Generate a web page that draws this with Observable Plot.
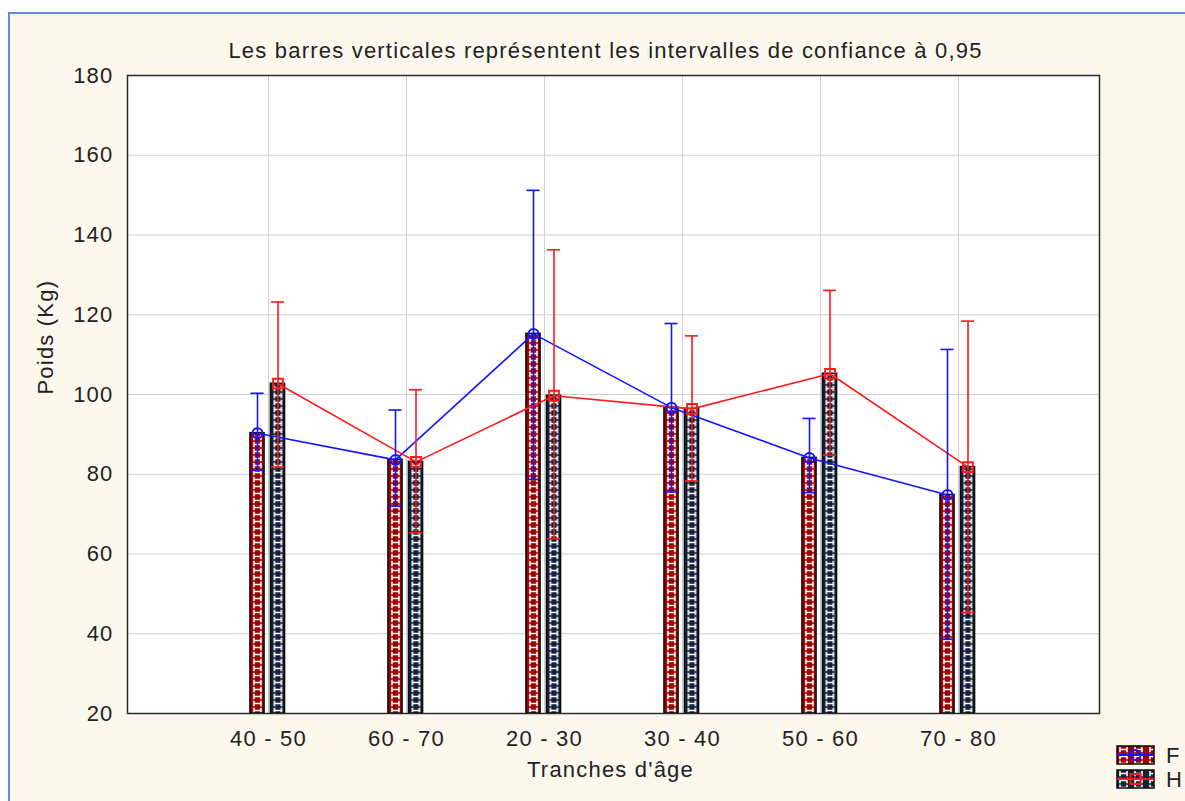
<!DOCTYPE html>
<html lang="fr">
<head>
<meta charset="utf-8">
<script src="https://cdn.jsdelivr.net/npm/d3@7"></script>
<script src="https://cdn.jsdelivr.net/npm/@observablehq/plot@0.6"></script>
<style>
  html, body { margin: 0; padding: 0; background: #ffffff; overflow: hidden; }
  #panel { position: absolute; left: 8px; top: 12px; width: 1200px; height: 800px;
           background: #fcf8ee; border-left: 2px solid #5f8fd6; border-top: 2px solid #5f8fd6; }
  #chart { position: absolute; left: 0; top: 0; }
  #legend { position: absolute; left: 1110px; top: 740px; }
  #legend text { font-family: "Liberation Sans", Arial, sans-serif; font-size: 22px; fill: #222; letter-spacing: 1.2px; }
</style>
</head>
<body>
<div id="panel"></div>
<svg id="defs" width="1" height="1" style="position:absolute;left:0;top:0"><defs></defs></svg>
<div id="chart"></div>
<svg id="legend" width="75" height="61"></svg>
<script>
// Poids moyen par tranche d'âge et par sexe, avec intervalles de confiance à 95 %
const categories = ["40 - 50", "60 - 70", "20 - 30", "30 - 40", "50 - 60", "70 - 80"];

// Femmes (F)
const fMean = [90.3, 83.6, 115.2, 96.7, 84.1, 74.8];
const fLow  = [81.0, 72.0, 78.7, 75.6, 75.4, 38.6];
const fHigh = [100.3, 96.1, 151.2, 117.8, 94.0, 111.3];

// Hommes (H)
const hMean = [102.7, 83.1, 99.7, 96.4, 105.2, 81.8];
const hLow  = [81.8, 65.3, 63.8, 78.3, 84.8, 45.3];
const hHigh = [123.2, 101.2, 136.3, 114.7, 126.1, 118.4];

const yTicks = [20, 40, 60, 80, 100, 120, 140, 160, 180];
const legendLabels = ["F", "H"];

const rows = categories.map((cat, i) => ({
  cat,
  fMean: fMean[i], fLow: fLow[i], fHigh: fHigh[i],
  hMean: hMean[i], hLow: hLow[i], hHigh: hHigh[i]
}));

const W = 1185, H = 801;
const mL = 127, mR = 86, mT = 75, mB = 88;
const step = (W - mL - mR) / (categories.length + 1);   // band width
const barW = 15, capW = 14, offF = -11, offH = 9.5;
const barInset = (step - barW) / 2;
const capInset = (step - capW) / 2;
const base = yTicks[0];
const blue = "#1414ff", red = "#ff1a1a";
const fillF = "#9c0000", fillH = "#14213a";

// Brick-like hatch; x0 lets each bar start on the same motif
const defs = d3.select("#defs defs");
function brick(id, bg, x0) {
  const p = defs.append("pattern").attr("id", id).attr("patternUnits", "userSpaceOnUse")
    .attr("x", x0).attr("y", 0).attr("width", barW).attr("height", 7);
  p.append("rect").attr("width", barW).attr("height", 7).attr("fill", bg);
  p.append("path").attr("d", "M4,0.8V6.2M11,0.8V6.2M4,3.5H11")
    .attr("stroke", "#ffffff").attr("stroke-width", 1.6).attr("fill", "none");
}
brick("brickFLeg", fillF, -1);
brick("brickHLeg", fillH, -1);

function bars(meanKey, color, dx) {
  return Plot.barY(rows, {x: "cat", y1: base, y2: meanKey, fill: color,
    stroke: "#0a0a0a", strokeWidth: 1.5, insetLeft: barInset, insetRight: barInset, dx});
}
function overlay(meanKey, lowKey, highKey, color, symbol, dx) {
  return [
    Plot.ruleX(rows, {x: "cat", y1: lowKey, y2: highKey, stroke: color, strokeWidth: 1.6, dx}),
    Plot.tickY(rows, {x: "cat", y: highKey, stroke: color, strokeWidth: 1.6, insetLeft: capInset, insetRight: capInset, dx}),
    Plot.tickY(rows, {x: "cat", y: lowKey, stroke: color, strokeWidth: 1.6, insetLeft: capInset, insetRight: capInset, dx}),
    Plot.dot(rows, {x: "cat", y: meanKey, r: symbol === "circle" ? 5 : 5.5, symbol, stroke: color, strokeWidth: 2, fill: "none", dx})
  ];
}

const chart = Plot.plot({
  width: W, height: H,
  marginLeft: mL, marginRight: mR, marginTop: mT, marginBottom: mB,
  style: {background: "transparent", fontFamily: "'Liberation Sans', Arial, sans-serif",
          fontSize: "22px", color: "#222", letterSpacing: "1.2px"},
  x: {type: "band", domain: categories, paddingInner: 0, paddingOuter: 0.5},
  y: {domain: [yTicks[0], yTicks[yTicks.length - 1]]},
  marks: [
    Plot.frame({fill: "#ffffff", stroke: "none"}),
    Plot.gridY({ticks: yTicks, stroke: "#cfcfcf", strokeOpacity: 1, strokeWidth: 1}),
    Plot.gridX({stroke: "#cfcfcf", strokeOpacity: 1, strokeWidth: 1}),
    bars("fMean", fillF, offF),
    bars("hMean", fillH, offH),
    Plot.lineY(rows, {x: "cat", y: "fMean", stroke: blue, strokeWidth: 1.6, dx: offF}),
    Plot.lineY(rows, {x: "cat", y: "hMean", stroke: red, strokeWidth: 1.6, dx: offH}),
    ...overlay("fMean", "fLow", "fHigh", blue, "circle", offF),
    ...overlay("hMean", "hLow", "hHigh", red, "square", offH),
    Plot.frame({stroke: "#2a2a2a", strokeWidth: 1.5}),
    Plot.axisY({ticks: yTicks, tickSize: 0, tickPadding: 14, label: null}),
    Plot.axisX({tickSize: 0, tickPadding: 17, label: null}),
    Plot.text(["Les barres verticales représentent les intervalles de confiance à 0,95"],
      {frameAnchor: "top", dy: -33, dx: -8, fontSize: 22}),
    Plot.text(["Tranches d'âge"], {frameAnchor: "bottom", dy: 63, dx: -3, fontSize: 22}),
    Plot.text(["Poids (Kg)"], {frameAnchor: "left", dx: -82, rotate: -90, fontSize: 22})
  ]
});
document.getElementById("chart").append(chart);

// Swap each bar's flat colour for the hatch, anchored on the bar's own left edge
[[fillF, "F"], [fillH, "H"]].forEach(([color, key]) => {
  d3.select(chart).selectAll(`g[fill="${color}"] rect`).each(function (d, i) {
    const id = `brick${key}${i}`;
    brick(id, color, +this.getAttribute("x"));
    this.setAttribute("fill", `url(#${id})`);
  });
});

// Légende : motif de la barre traversé par la ligne et le symbole de chaque série
const leg = d3.select("#legend");
const legendItems = [
  {label: legendLabels[0], fill: "url(#brickFLeg)", color: blue, symbol: "circle"},
  {label: legendLabels[1], fill: "url(#brickHLeg)", color: red, symbol: "square"}
];
legendItems.forEach((d, i) => {
  const g = leg.append("g").attr("transform", `translate(7,${6 + i * 24})`);
  g.append("rect").attr("width", 37).attr("height", 18).attr("fill", d.fill)
    .attr("stroke", "#0a0a0a").attr("stroke-width", 1.5);
  g.append("line").attr("x1", 0).attr("x2", 37).attr("y1", 9).attr("y2", 9)
    .attr("stroke", d.color).attr("stroke-width", 2);
  if (d.symbol === "circle") {
    g.append("circle").attr("cx", 18.5).attr("cy", 9).attr("r", 5)
      .attr("fill", "none").attr("stroke", d.color).attr("stroke-width", 2);
  } else {
    g.append("rect").attr("x", 13.5).attr("y", 4).attr("width", 10).attr("height", 10)
      .attr("fill", "none").attr("stroke", d.color).attr("stroke-width", 2);
  }
  g.append("text").attr("x", 49).attr("y", 17).text(d.label);
});
</script>
</body>
</html>
